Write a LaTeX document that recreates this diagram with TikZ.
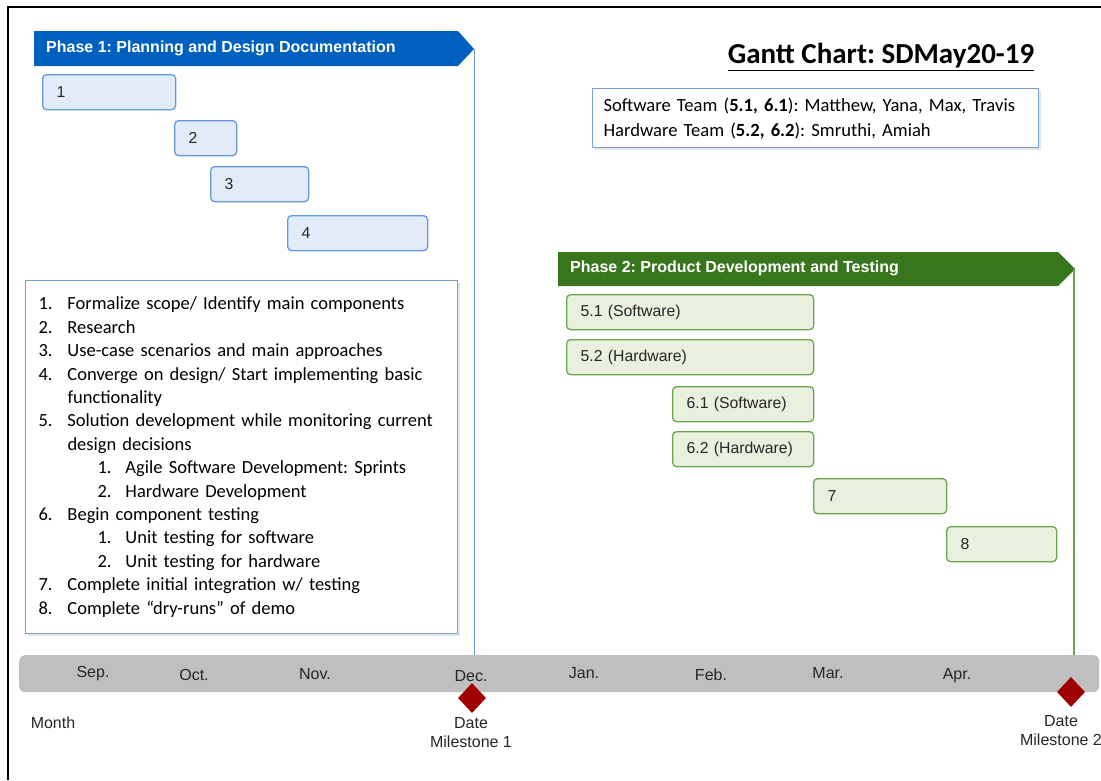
\documentclass[tikz,border=0pt]{standalone}
\usepackage{fontspec}
\setmainfont{Liberation Sans}
\newfontfamily\calibri{Carlito}
\usetikzlibrary{positioning, shapes.geometric, shadows, calc}
\frenchspacing

\definecolor{phaseblue}{RGB}{0,96,192}
\definecolor{phasegreen}{RGB}{56,118,29}
\definecolor{taskblue}{RGB}{100,152,225}
\definecolor{taskbluefill}{RGB}{226,236,248}
\definecolor{taskgreen}{RGB}{106,168,79}
\definecolor{taskgreenfill}{RGB}{234,240,222}
\definecolor{bargray}{RGB}{191,191,191}
\definecolor{milered}{RGB}{160,0,0}
\definecolor{boxblue}{RGB}{120,160,220}

\newcommand{\lnum}[1]{\makebox[29pt][l]{#1}}
\newcommand{\snum}[1]{\hspace*{59pt}\makebox[28pt][l]{#1}}

\begin{document}
\begin{tikzpicture}[
    x=1pt, y=-1pt,
    task/.style={draw, rounded corners=4pt, line width=1.3pt, minimum height=35pt, inner xsep=14pt, inner ysep=0pt, align=left, anchor=north west, text=black!85, font=\fontsize{15.8}{18}\selectfont},
    bluetask/.style={task, draw=taskblue, fill=taskbluefill},
    greentask/.style={task, draw=taskgreen, fill=taskgreenfill},
    bannertext/.style={anchor=west, inner sep=0pt, text=white, font=\bfseries\fontsize{16}{18}\selectfont},
    infobox/.style={draw=boxblue, line width=1pt, fill=white, anchor=north west, align=left, drop shadow={opacity=0.2, shadow xshift=2pt, shadow yshift=-2pt}},
    month/.style={text=black!85, font=\fontsize{16}{18}\selectfont},
    milestone/.style={diamond, fill=milered, minimum width=28pt, minimum height=30pt, inner sep=0pt},
    mslabel/.style={align=center, text=black!85, font=\fontsize{16}{19}\selectfont}
]
    \useasboundingbox (0,0) rectangle (1101,780);
    \fill[white] (0,0) rectangle (1101,780);
    % outer frame
    \draw[line width=2pt] (8,780) -- (8,7) -- (1101,7);

    % title and teams
    \node (title) at (881,57) {\calibri\bfseries\fontsize{29}{32}\selectfont\underline{Gantt Chart: SDMay20-19}};
    \node[infobox, minimum width=446pt, minimum height=59pt, text width=424pt, inner xsep=11pt, font=\calibri\fontsize{18.6}{25}\selectfont] (teams) at (592,88)
        {Software Team (\textbf{5.1, 6.1}): Matthew, Yana, Max, Travis\\
         Hardware Team (\textbf{5.2, 6.2}): Smruthi, Amiah};

    % phase 1
    \fill[phaseblue] (34,31) -- (458,31) -- (474,49) -- (458,66) -- (34,66) -- cycle;
    \coordinate (p1tip) at (474,49);
    \node[bannertext] (p1title) at (46,48) {Phase 1: Planning and Design Documentation};

    \node[bluetask, text width=105pt] (t1) at (42,74) {1};
    \node[bluetask, text width=34pt] (t2) at (174,120) {2};
    \node[bluetask, text width=70pt] (t3) at (210,166) {3};
    \node[bluetask, text width=112pt] (t4) at (287,215) {4};

    % phase 2
    \fill[phasegreen] (558,252) -- (1058,252) -- (1075,269) -- (1058,286) -- (558,286) -- cycle;
    \coordinate (p2tip) at (1074,269);
    \node[bannertext] (p2title) at (570,268) {Phase 2: Product Development and Testing};

    \node[greentask, text width=219pt] (t51) at (566,294) {5.1 (Software)};
    \node[greentask, text width=219pt] (t52) at (566,339) {5.2 (Hardware)};
    \node[greentask, text width=113pt] (t61) at (672,386) {6.1 (Software)};
    \node[greentask, text width=113pt] (t62) at (672,431) {6.2 (Hardware)};
    \node[greentask, text width=105pt] (t7) at (813,478) {7};
    \node[greentask, text width=82pt] (t8) at (946,526) {8};

    % task list
    \node[infobox, minimum width=432pt, minimum height=353pt, text width=406pt, inner xsep=13pt, font=\calibri\fontsize{18.5}{23.4}\selectfont] (steps) at (25,280)
        {\lnum{1.}Formalize scope/ Identify main components\\
         \lnum{2.}Research\\
         \lnum{3.}Use-case scenarios and main approaches\\
         \lnum{4.}Converge on design/ Start implementing basic\\
         \lnum{}functionality\\
         \lnum{5.}Solution development while monitoring current\\
         \lnum{}design decisions\\
         \snum{1.}Agile Software Development: Sprints\\
         \snum{2.}Hardware Development\\
         \lnum{6.}Begin component testing\\
         \snum{1.}Unit testing for software\\
         \snum{2.}Unit testing for hardware\\
         \lnum{7.}Complete initial integration w/ testing\\
         \lnum{8.}Complete “dry-runs” of demo};

    % timeline
    \node[fill=bargray, rounded corners=6pt, minimum width=1080pt, minimum height=37pt, inner sep=0pt, anchor=north west] (bar) at (19,655) {};
    \draw[taskblue, line width=1pt] (p1tip) -- (p1tip |- bar.north);
    \draw[taskgreen, line width=1.5pt] (p2tip) -- (p2tip |- bar.north);

    \foreach \mx/\my/\mname [count=\i] in {93/674/Sep., 194/675/Oct., 315/674/Nov., 471/676/Dec., 584/673/Jan., 711/675/Feb., 828/673/Mar., 957/676/Apr.}
        \node[month] (month\i) at (\mx,\my) {\mname};

    \node[milestone] (ms1) at (472,698) {};
    \node[milestone] (ms2) at (1071,692) {};
    \node[mslabel] (ms1lbl) at (471,733) {Date\\Milestone 1};
    \node[mslabel] (ms2lbl) at (1061,731) {Date\\Milestone 2};
    \node[month] (monthlbl) at (53,723) {Month};
\end{tikzpicture}
\end{document}
